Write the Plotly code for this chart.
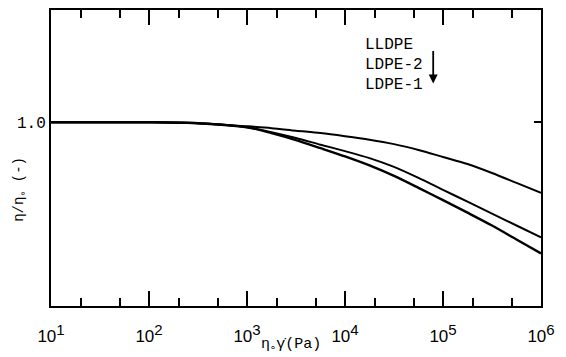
import plotly.graph_objects as go

# shear stress eta0*gamma_dot (Pa)
x_vals = [10, 100, 316, 1000, 1778, 3162, 5623, 10000, 17780, 31620, 56230,
          100000, 177800, 316200, 562300, 1000000]
lldpe = [1.0, 1.0, 0.995, 0.978, 0.968, 0.954, 0.941, 0.924, 0.905, 0.881,
         0.849, 0.811, 0.773, 0.724, 0.670, 0.616]
ldpe2 = [1.0, 1.0, 0.995, 0.973, 0.946, 0.914, 0.878, 0.843, 0.805, 0.757,
         0.697, 0.632, 0.568, 0.503, 0.438, 0.373]
ldpe1 = [1.0, 1.0, 0.995, 0.973, 0.941, 0.903, 0.859, 0.814, 0.765, 0.708,
         0.643, 0.576, 0.508, 0.438, 0.362, 0.286]

x_ticks = [10, 100, 1000, 10000, 100000, 1000000]
x_exps = ["1", "2", "3", "4", "5", "6"]
x_minor = [20, 50, 200, 500, 2000, 5000, 20000, 50000, 200000, 500000]
y_ticks = [1.0]
y_ticktext = ["1.0"]
series_names = ["LLDPE", "LDPE-2", "LDPE-1"]

x_ticktext = ["10<sup><span style='font-size:15px'>%s</span></sup>" % e for e in x_exps]

mono = "Liberation Mono, Courier New, monospace"

fig = go.Figure()
for name, ys, w in zip(series_names, [lldpe, ldpe2, ldpe1], [2, 2, 2.4]):
    fig.add_trace(go.Scatter(x=x_vals, y=ys, mode="lines", name=name,
                             line=dict(color="black", width=w, shape="spline", smoothing=0.8),
                             showlegend=False))

fig.update_layout(
    width=558, height=349,
    margin=dict(l=43, r=25, t=0, b=51),
    paper_bgcolor="white", plot_bgcolor="white",
    xaxis=dict(type="log", range=[1, 6], tickvals=x_ticks, ticktext=x_ticktext,
               ticks="inside", ticklen=15, tickwidth=2, tickcolor="black",
               ticklabelstandoff=14,
               showline=True, linewidth=2, linecolor="black", mirror="ticks",
               showgrid=False, zeroline=False,
               tickfont=dict(family="Liberation Sans, Arial, sans-serif", size=17, color="black"),
               minor=dict(tickvals=x_minor, ticks="inside", ticklen=8, tickwidth=2,
                          tickcolor="black", showgrid=False)),
    yaxis=dict(range=[0, 1.611], tickvals=y_ticks, ticktext=y_ticktext,
               ticks="inside", ticklen=7, tickwidth=2, tickcolor="black",
               showline=True, linewidth=2, linecolor="black", mirror="ticks",
               showgrid=False, zeroline=False,
               tickfont=dict(family=mono, size=16, color="black")),
)

fig.add_annotation(text="η<sub>∘</sub>γ̇(Pa)", xref="paper", yref="paper",
                   x=0.49, y=-0.133, xanchor="center", yanchor="middle",
                   showarrow=False, font=dict(family=mono, size=15, color="black"))
fig.add_annotation(text="η/η<sub>∘</sub> (-)", xref="paper", yref="paper",
                   x=-0.063, y=0.393, xanchor="center", yanchor="middle",
                   textangle=-90, showarrow=False,
                   font=dict(family=mono, size=14, color="black"))

label_y = [0.883, 0.815, 0.748]
for name, yy in zip(series_names, label_y):
    fig.add_annotation(text=name, xref="paper", yref="paper",
                       x=0.637, y=yy, xanchor="left", yanchor="middle",
                       showarrow=False, font=dict(family=mono, size=16, color="black"))

fig.add_annotation(xref="paper", yref="paper", x=0.78, y=0.752,
                   ax=0, ay=-34, axref="pixel", ayref="pixel",
                   text="", showarrow=True, arrowhead=2, arrowsize=1,
                   arrowwidth=1.8, arrowcolor="black")

fig.write_html("out.html")
